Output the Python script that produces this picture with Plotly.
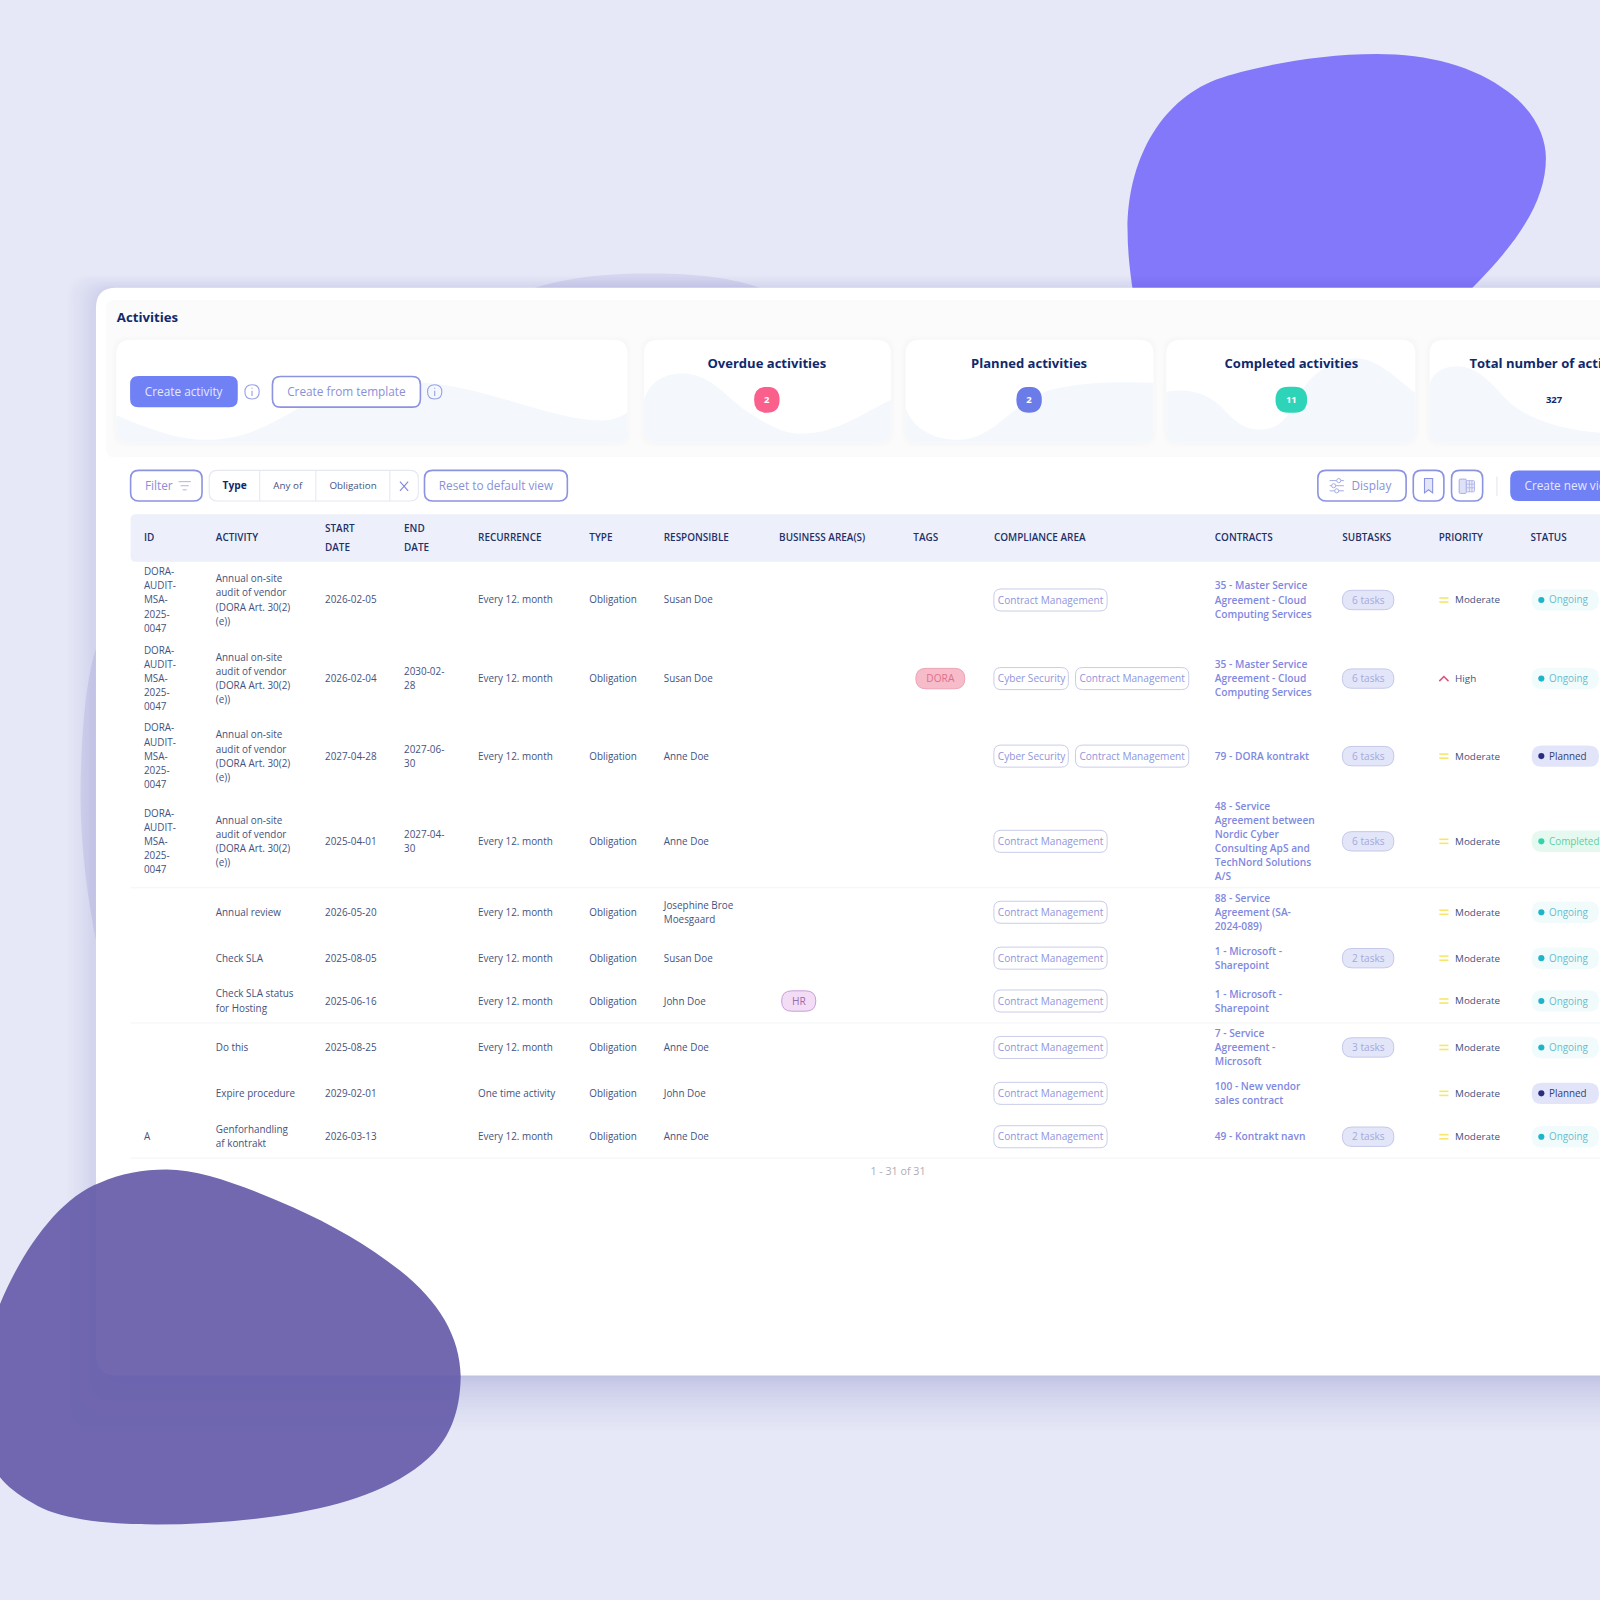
import plotly.graph_objects as go

# table content
ids = ["DORA-<br>AUDIT-<br>MSA-<br>2025-<br>0047"] * 4 + ["", "", "", "", "", "A"]
dora_activity = "Annual on-site<br>audit of vendor<br>(DORA Art. 30(2)<br>(e))"
activities = [dora_activity] * 4 + ["Annual review", "Check SLA", "Check SLA status<br>for Hosting", "Do this",
                                    "Expire procedure", "Genforhandling<br>af kontrakt"]
start_dates = ["2026-02-05", "2026-02-04", "2027-04-28", "2025-04-01", "2026-05-20", "2025-08-05", "2025-06-16",
               "2025-08-25", "2029-02-01", "2026-03-13"]
end_dates = ["", "2030-02-<br>28", "2027-06-<br>30", "2027-04-<br>30", "", "", "", "", "", ""]
recurrences = ["Every 12. month"] * 8 + ["One time activity", "Every 12. month"]
types = ["Obligation"] * 10
responsibles = ["Susan Doe", "Susan Doe", "Anne Doe", "Anne Doe", "Josephine Broe<br>Moesgaard", "Susan Doe",
                "John Doe", "Anne Doe", "John Doe", "Anne Doe"]
contracts = ["35 - Master Service<br>Agreement - Cloud<br>Computing Services",
             "35 - Master Service<br>Agreement - Cloud<br>Computing Services",
             "79 - DORA kontrakt",
             "48 - Service<br>Agreement between<br>Nordic Cyber<br>Consulting ApS and<br>TechNord Solutions<br>A/S",
             "88 - Service<br>Agreement (SA-<br>2024-089)",
             "1 - Microsoft -<br>Sharepoint", "1 - Microsoft -<br>Sharepoint",
             "7 - Service<br>Agreement -<br>Microsoft",
             "100 - New vendor<br>sales contract", "49 - Kontrakt navn"]
subtasks = ["6 tasks", "6 tasks", "6 tasks", "6 tasks", "", "2 tasks", "", "3 tasks", "", "2 tasks"]
priorities = ["Moderate", "High"] + ["Moderate"] * 8
statuses = ["Ongoing", "Ongoing", "Planned", "Completed", "Ongoing", "Ongoing", "Ongoing", "Ongoing", "Planned",
            "Ongoing"]
two_areas = [1, 2]
headers = ["ID", "ACTIVITY", "RECURRENCE", "TYPE", "RESPONSIBLE", "BUSINESS AREA(S)", "TAGS", "COMPLIANCE AREA",
           "CONTRACTS", "SUBTASKS", "PRIORITY", "STATUS"]
card_titles = ["Overdue activities", "Planned activities", "Completed activities"]
card_counts = ["2", "2", "11"]

# layout, in the 1568 px coordinates of the axes
row_y = [588, 665, 741, 824.5, 894, 939, 981, 1026.5, 1071.5, 1114]
col_x = [141, 211.5, 318.5, 396, 468.5, 577.5, 650.5, 763.5, 895, 974, 1190.5, 1315.5, 1410, 1500]
header_x = [141, 211.5, 468.5, 577.5, 650.5, 763.5, 895, 974, 1190.5, 1315.5, 1410, 1500]

NAVY = "#10296b"
ROW = "#44527e"
LINK = "#7f88e0"
BORDER = "#8c93e0"
FONT = "Open Sans"
LINE_GAP = 13.8

shapes = []


def rrect(x0, y0, x1, y1, r):
    return (f"M{x0+r},{y0} L{x1-r},{y0} Q{x1},{y0} {x1},{y0+r} L{x1},{y1-r} Q{x1},{y1} {x1-r},{y1} "
            f"L{x0+r},{y1} Q{x0},{y1} {x0},{y1-r} L{x0},{y0+r} Q{x0},{y0} {x0+r},{y0} Z")


def path(d, fill="rgba(0,0,0,0)", line=None, width=1, opacity=1):
    shapes.append(dict(type="path", path=d, fillcolor=fill, opacity=opacity, layer="below",
                       line=dict(color=line or "rgba(0,0,0,0)", width=width if line else 0)))


def box(x0, y0, x1, y1, r, fill="rgba(0,0,0,0)", line=None, width=1, opacity=1):
    path(rrect(x0, y0, x1, y1, r), fill, line, width, opacity)


def seg(x0, y0, x1, y1, color, width=1):
    path(f"M{x0},{y0} L{x1},{y1}", line=color, width=width)


fig = go.Figure()


def text(xs, ys, labels, size, color, pos="middle right", weight=400):
    # every wrapped line is its own point so the line gap can follow the reference
    px, py, pt = [], [], []
    for x, y, label in zip(xs, ys, labels):
        lines = label.split("<br>")
        for i, part in enumerate(lines):
            px.append(x)
            py.append(y + 1 + (i - (len(lines) - 1) / 2) * LINE_GAP)
            pt.append(part)
    fig.add_trace(go.Scatter(x=px, y=py, text=pt, mode="text", textposition=pos, hoverinfo="skip",
                             textfont=dict(family=FONT, size=size, color=color, weight=weight)))


# background blobs
path("M518,284 C560,270 600,268 640,268 C680,268 720,272 750,284 L750,600 L96,931 "
     "C85,880 78,820 79,770 C80,710 85,660 96,630 Z", fill="#d6d7ef")
path("M1105,225 C1105,160 1135,100 1192,78 C1225,66 1290,53 1349,53 C1400,53 1445,65 1478,90 "
     "C1505,110 1515,135 1515,155 C1515,195 1490,235 1443,282 L1443,290 L1111,290 C1107,265 1105,245 1105,225 Z",
     fill="#8478fa")

# panel with its shadow
for k in range(1, 21):
    grow = (k / 20) ** 1.6
    box(106 - 40 * grow, 288 - 18 * grow, 1640, 1348 + 54 * grow, 22, fill="rgb(60,64,140)", opacity=0.0135)
box(94, 282, 1640, 1348, 20, fill="#ffffff")
box(104, 294, 1640, 448, 8, fill="#fbfbfb")
box(118, 448, 1640, 1140, 10, fill="#ffffff")

# cards
cards = [(114, 615), (631, 873), (887.5, 1130.5), (1143, 1387), (1401, 1640)]
waves = ["M114,407 C145,420 175,432 205,431 C260,430 290,395 330,382 C370,372 410,372 450,380 "
         "C500,390 550,412 590,412 C600,412 610,408 615,404 L615,422 Q615,434 603,434 L126,434 Q114,434 114,422 Z",
         "M631,392 C636,375 650,366 668,366 C700,366 715,395 740,408 C755,418 770,425 785,425 "
         "C820,425 845,405 873,392 L873,422 Q873,434 861,434 L643,434 Q631,434 631,422 Z",
         "M887.5,400 C895,420 915,431 939,431 C975,431 990,395 1030,382 C1060,374 1100,374 1130.5,375 "
         "L1130.5,422 Q1130.5,434 1118.5,434 L899.5,434 Q887.5,434 887.5,422 Z",
         "M1143,384 C1165,380 1185,385 1200,402 C1212,415 1222,421 1234,421 C1255,421 1262,408 1272,390 "
         "C1282,368 1305,351 1329,351 C1350,351 1370,372 1387,385 L1387,422 Q1387,434 1375,434 L1155,434 "
         "Q1143,434 1143,422 Z",
         "M1401,375 C1405,365 1415,359 1428,359 C1450,359 1465,380 1480,395 C1500,412 1535,422 1568,424 "
         "L1568,434 L1413,434 Q1401,434 1401,422 Z"]
for (x0, x1), wave in zip(cards, waves):
    for k in range(1, 5):
        box(x0 - k, 333 - k, x1 + k, 434 + k, 14, fill="#8890b0", opacity=0.012)
    box(x0, 333, x1, 434, 14, fill="#ffffff")
    path(wave, fill="#f4f8fd")

# badges
card_x = [751.5, 1008.5, 1265.5]
badge_rx = [12.5, 12.5, 15.5]
badge_fill = ["#fb5f8c", "#6b7ce8", "#2dd4b8"]
for cx, rx, fill in zip(card_x, badge_rx, badge_fill):
    box(cx - rx, 379, cx + rx, 404.5, 12.7, fill=fill)

# action buttons
box(127.5, 368.5, 233, 399, 8, fill="#7080f5")
box(267, 369, 412, 399, 8, fill="#ffffff", line=BORDER, width=1.6)
for cx in [247, 426]:
    box(cx - 7, 377, cx + 7, 391, 7, line="#98a0e6", width=1.1)
    seg(cx, 383, cx, 388, "#98a0e6", 1.1)
    seg(cx, 380, cx, 381, "#98a0e6", 1.1)

# filter row
box(128, 461, 198, 491, 8, fill="#ffffff", line=BORDER, width=1.6)
for x0, x1, y in [(175, 187, 472), (177, 185, 476), (179, 183, 480)]:
    seg(x0, y, x1, y, "#b6bbe8", 1.1)
box(205, 461, 410, 491, 8, fill="#ffffff", line="#e6e8f1", width=1.1)
for x in [254.5, 309.5, 382]:
    seg(x, 461, x, 491, "#e6e8f1", 1.1)
seg(392, 472, 400, 481, "#7e88dc", 1.1)
seg(400, 472, 392, 481, "#7e88dc", 1.1)
box(416, 461, 556, 491, 8, fill="#ffffff", line=BORDER, width=1.6)
box(1291.5, 461, 1378, 491, 8, fill="#ffffff", line=BORDER, width=1.6)
for y, cx in [(471, 1312), (476, 1307), (481, 1310)]:
    seg(1303, y, 1317, y, "#a6ace6", 1)
    box(cx - 2, y - 2, cx + 2, y + 2, 2, fill="#ffffff", line="#a6ace6", width=1)
box(1385, 461, 1415, 491, 8, fill="#ffffff", line=BORDER, width=1.6)
path("M1396,469 L1404,469 L1404,483 L1400,480 L1396,483 Z", fill="#e3e6f8", line="#8c93e0", width=1.1)
box(1422.5, 461, 1453, 491, 8, fill="#ffffff", line=BORDER, width=1.6)
box(1430, 469.5, 1437, 483.5, 1, fill="#dfe2f6", line="#a6ace6", width=1)
box(1437, 471, 1445, 482, 1, fill="#e9ebf9", line="#a6ace6", width=0.8)
for x in [1440, 1442.5]:
    seg(x, 471, x, 482, "#a6ace6", 0.7)
for y in [474.5, 478]:
    seg(1437, y, 1445, y, "#a6ace6", 0.7)
seg(1467, 467, 1467, 486, "#e2e4ee", 1)
box(1480, 461, 1640, 491, 8, fill="#7080f5")

# table frame
box(128, 504, 1640, 550.5, 5, fill="#edf0fa")
for y in [870, 1002.5, 1135]:
    seg(128, y, 1568, y, "#f3f4f8", 1)

# pills in the rows
for i, y in enumerate(row_y):
    if i in two_areas:
        box(974, y - 10.8, 1047, y + 10.8, 7, fill="#ffffff", line="#c9cdea", width=1)
        box(1054, y - 10.8, 1165, y + 10.8, 7, fill="#ffffff", line="#c9cdea", width=1)
    else:
        box(974, y - 10.8, 1085, y + 10.8, 7, fill="#ffffff", line="#c9cdea", width=1)
for y, s in zip(row_y, subtasks):
    if s:
        box(1315.5, y - 9.5, 1366, y + 9.5, 9.5, fill="#e3e6f8", line="#c5c9ea", width=1)
box(897.5, row_y[1] - 10, 945.5, row_y[1] + 10, 10, fill="#f7bcca", line="#eda3b5", width=1)
box(766, row_y[6] - 10, 799.5, row_y[6] + 10, 10, fill="#f3dcf5", line="#c8a0d8", width=1)

for y, p in zip(row_y, priorities):
    if p == "High":
        path(f"M1410.5,{y+2.5} L1415,{y-2} L1419.5,{y+2.5}", line="#e0507a", width=1.5)
    else:
        seg(1410.5, y - 2, 1419.5, y - 2, "#f7e66b", 1.6)
        seg(1410.5, y + 2, 1419.5, y + 2, "#f7e66b", 1.6)

status_style = {"Ongoing": ("#f1fbfc", "#1fb5c9", "#6cbccd"),
                "Planned": ("#e2e5fa", "#2b2c80", "#34406e"),
                "Completed": ("#e6f9f0", "#2fd6a8", "#5fcfa0")}
for y, s in zip(row_y, statuses):
    bg, dot, _ = status_style[s]
    box(1501, y - 10.5, 1567 if s != "Completed" else 1640, y + 10.5, 10, fill=bg)
    box(1507.5, y - 3, 1513.5, y + 3, 3, fill=dot)

# bottom blob lies over the panel
path("M-2,1283 C18,1232 55,1175 98,1159 C118,1150 140,1146 163,1146 C200,1146 245,1165 287,1183 "
     "C325,1200 360,1220 392,1245 C430,1275 451,1310 451.5,1349 C451,1385 440,1408 425,1424 "
     "C395,1455 345,1473 294,1482 C250,1490 200,1494 153,1494 C100,1494 55,1488 32,1473 C15,1463 5,1455 -2,1445 Z",
     fill="rgb(102,93,170)", opacity=0.93)

# texts
text([114.5], [311], ["Activities"], 13.2, NAVY, weight=700)
text(card_x, [356] * 3, card_titles, 13.05, NAVY, pos="middle center", weight=700)
text([1440], [356], ["Total number of activities"], 13.05, NAVY, weight=700)
text(card_x, [391.5] * 3, card_counts, 9.5, "#ffffff", pos="middle center", weight=700)
text([1523], [391.5], ["327"], 9.5, NAVY, pos="middle center", weight=700)

text([180], [384], ["Create activity"], 11.8, "#e6e8ff", pos="middle center")
text([339.5], [384], ["Create from template"], 11.8, "#8a90d8", pos="middle center")
text([142], [476], ["Filter"], 11.8, "#8a90d8")
text([230], [476], ["Type"], 10.2, NAVY, pos="middle center", weight=700)
text([282, 346], [476, 476], ["Any of", "Obligation"], 9.8, ROW, pos="middle center")
text([486], [476], ["Reset to default view"], 11.8, "#8a90d8", pos="middle center")
text([1344], [476], ["Display"], 11.8, "#8a90d8", pos="middle center")
text([1494], [476], ["Create new view"], 11.8, "#e6e8ff")

text(header_x, [527] * len(headers), headers, 9.95, "#1f3068", weight=600)
text([318.5, 318.5, 396, 396], [518, 537, 518, 537], ["START", "DATE", "END", "DATE"], 9.95, "#1f3068",
     weight=600)

for x, col in zip(col_x[:7], [ids, activities, start_dates, end_dates, recurrences, types, responsibles]):
    text([x] * len(row_y), row_y, col, 9.9, ROW)

text([col_x[10]] * len(row_y), row_y, contracts, 10.2, LINK, weight=600)
text([1341] * len(row_y), row_y, subtasks, 10.1, "#a3a9e0", pos="middle center")
text([1426] * len(row_y), row_y, priorities, 9.85, ROW)
for s in status_style:
    ys = [y for y, st in zip(row_y, statuses) if st == s]
    text([1518] * len(ys), ys, [s] * len(ys), 9.9, status_style[s][2])

for i, y in enumerate(row_y):
    if i in two_areas:
        text([1011, 1109.5], [y, y], ["Cyber Security", "Contract Management"], 10.1, "#8f96dc", pos="middle center")
    else:
        text([1029.5], [y], ["Contract Management"], 10.1, "#8f96dc", pos="middle center")
text([921.5], [row_y[1]], ["DORA"], 10.2, "#e0708c", pos="middle center")
text([783], [row_y[6]], ["HR"], 10.2, "#9a6cb0", pos="middle center")
text([880], [1148], ["1 - 31 of 31"], 10.7, "#adadb5", pos="middle center")

fig.update_layout(width=1600, height=1600, margin=dict(l=0, r=0, t=0, b=0), showlegend=False,
                  paper_bgcolor="#e6e8f7", plot_bgcolor="#e6e8f7", shapes=shapes, hovermode=False,
                  xaxis=dict(range=[0, 1568], visible=False, fixedrange=True),
                  yaxis=dict(range=[1568, 0], visible=False, fixedrange=True))
fig.write_html("out.html", config=dict(displayModeBar=False),
               post_script="document.body.style.margin='0';")
